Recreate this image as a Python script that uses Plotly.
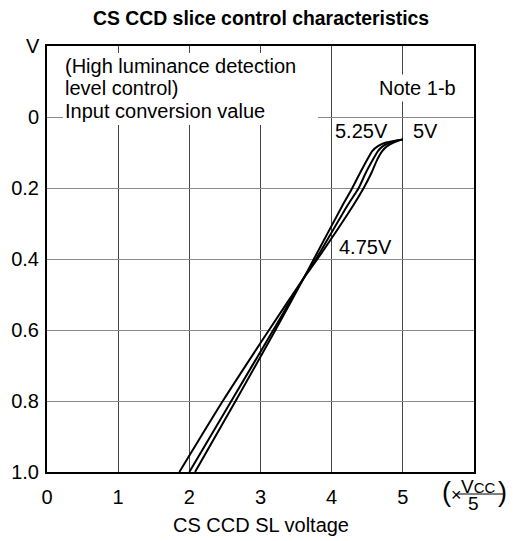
import plotly.graph_objects as go

# ---- data ----
y_levels = [0.063, 0.072, 0.082, 0.096, 0.12, 0.157, 0.2, 0.25, 0.4, 0.453, 0.6, 0.8, 1.0]
x_525 = [5.0, 4.76, 4.65, 4.57, 4.50, 4.40, 4.29, 4.15, 3.75, 3.61, 3.21, 2.65, 2.08]
x_500 = [5.0, 4.82, 4.72, 4.65, 4.58, 4.48, 4.38, 4.22, 3.78, 3.61, 3.18, 2.59, 2.00]
x_475 = [5.0, 4.87, 4.78, 4.71, 4.64, 4.56, 4.45, 4.30, 3.80, 3.61, 3.12, 2.47, 1.86]
series = [("5.25V", x_525), ("5V", x_500), ("4.75V", x_475)]

x_ticks = [0, 1, 2, 3, 4, 5]
y_ticks = [0, 0.2, 0.4, 0.6, 0.8, 1.0]
y_tick_text = ["0", "0.2", "0.4", "0.6", "0.8", "1.0"]

FONT = "Liberation Sans, Arial, Helvetica, sans-serif"
OFF = 8                      # default page body margin
PAGE_W, PAGE_H = 522, 541
W, H = PAGE_W - OFF, PAGE_H - OFF
L, R, T, B = 47, 474, 46, 472  # plot area in page px


def PX(x):
    return (x - L) / (R - L)


def PY(y):
    return (B - y) / (B - T)


fig = go.Figure()
for name, xs in series:
    fig.add_trace(go.Scatter(
        x=xs, y=y_levels, mode="lines", name=name,
        line=dict(color="black", width=2, shape="spline", smoothing=0.6),
        showlegend=False, hoverinfo="skip"))

fig.update_layout(
    width=W, height=H,
    margin=dict(l=L - OFF, r=W - (R - OFF), t=T - OFF, b=H - (B - OFF), pad=0,
                autoexpand=False),
    paper_bgcolor="white", plot_bgcolor="white",
    font=dict(family=FONT, size=20, color="black"),
    title=dict(text="<b>CS CCD slice control characteristics</b>",
               x=0.5 + (PAGE_W / 2 - OFF - W / 2) / W, xref="container",
               y=1 - (18 - OFF) / H, yref="container",
               xanchor="center", yanchor="middle",
               font=dict(family=FONT, size=19.4, color="black")),
)
fig.update_xaxes(range=[0, 6], tickvals=x_ticks, ticktext=[str(v) for v in x_ticks],
                 showgrid=True, gridcolor="#454545", gridwidth=1,
                 showline=True, linecolor="black", linewidth=2, mirror=True,
                 zeroline=False, ticks="", ticklabelstandoff=6, automargin=False,
                 tickfont=dict(family=FONT, size=20, color="black"))
fig.update_yaxes(range=[1.0, -0.2], tickvals=y_ticks, ticktext=y_tick_text,
                 showgrid=True, gridcolor="#8a8a8a", gridwidth=1,
                 showline=True, linecolor="black", linewidth=2, mirror=True,
                 zeroline=False, ticks="", ticklabelstandoff=2, automargin=False,
                 tickfont=dict(family=FONT, size=20, color="black"))

# white panel behind the note text (covers grid lines)
fig.add_shape(type="rect", xref="paper", yref="paper",
              x0=PX(63), x1=PX(318), y0=PY(125), y1=PY(53),
              fillcolor="white", line=dict(width=0), layer="above")

ann = []
def txt(text, x, y, xanchor="left", size=20, bg=None, yanchor="middle"):
    d = dict(text=text, x=PX(x), y=PY(y), xref="paper", yref="paper",
             xanchor=xanchor, yanchor=yanchor, showarrow=False,
             font=dict(family=FONT, size=size, color="black"))
    if bg:
        d["bgcolor"] = bg
        d["borderpad"] = 2
    ann.append(d)

txt("(High luminance detection", 63, 66)
txt("level control)", 63, 88)
txt("Input conversion value", 63, 111)
txt("Note 1-b", 376, 88, bg="white")
txt("5.25V", 333, 131)
txt("5V", 411, 131)
txt("4.75V", 337, 247)
txt("V", 33, 46, xanchor="center")
# x-axis unit (x Vcc/5)
txt('(<span style="font-size:18px">×</span>', 440, 492, xanchor="left", size=27)
txt('V<span style="font-size:15px">CC</span>', 478, 486, xanchor="center", size=19)
txt("5", 473, 503, xanchor="center", size=19)
txt(")", 502, 492, xanchor="center", size=27)
txt("CS CCD SL voltage", 261, 525, xanchor="center", size=20)
fig.update_layout(annotations=ann)

fig.add_shape(type="line", xref="paper", yref="paper",
              x0=PX(456), x1=PX(503), y0=PY(494), y1=PY(494),
              line=dict(color="black", width=1))

fig.write_html("out.html")
